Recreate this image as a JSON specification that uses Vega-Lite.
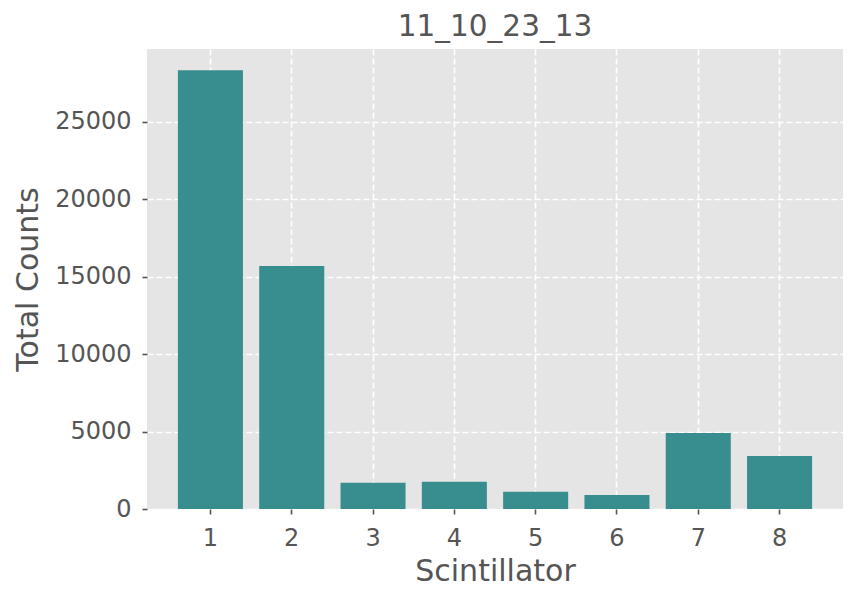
{
  "$schema": "https://vega.github.io/schema/vega-lite/v6.json",
  "width": 696,
  "height": 460,
  "autosize": "none",
  "padding": {"left": 147, "top": 49, "right": 15, "bottom": 92},
  "background": "white",
  "config": {
    "view": {"fill": "#E5E5E5", "stroke": null},
    "font": "DejaVu Sans"
  },
  "title": {
    "text": "11_10_23_13",
    "fontSize": 29.5,
    "font": "DejaVu Sans",
    "fontWeight": "normal",
    "color": "#555555",
    "anchor": "middle",
    "frame": "group",
    "baseline": "alphabetic",
    "offset": 13,
    "dy": 29
  },
  "data": {
    "values": [
      {"Scintillator": "1", "Total Counts": 28330},
      {"Scintillator": "2", "Total Counts": 15690},
      {"Scintillator": "3", "Total Counts": 1700},
      {"Scintillator": "4", "Total Counts": 1760},
      {"Scintillator": "5", "Total Counts": 1110},
      {"Scintillator": "6", "Total Counts": 910},
      {"Scintillator": "7", "Total Counts": 4900},
      {"Scintillator": "8", "Total Counts": 3420}
    ]
  },
  "mark": {"type": "bar", "color": "#388E8E"},
  "encoding": {
    "x": {
      "field": "Scintillator",
      "type": "ordinal",
      "sort": null,
      "scale": {"paddingInner": 0.2, "paddingOuter": 0.38},
      "axis": {
        "title": "Scintillator",
        "titleFontSize": 30,
        "titleFontWeight": "normal",
        "titleColor": "#555555",
        "titleBaseline": "alphabetic",
        "titleY": 71,
        "labelAngle": 0,
        "labelFontSize": 24,
        "labelColor": "#555555",
        "labelBaseline": "alphabetic",
        "labelPadding": 31,
        "tickSize": 5,
        "tickWidth": 1.6,
        "tickColor": "#555555",
        "domain": false,
        "grid": true,
        "gridColor": "white",
        "gridDash": [6, 3],
        "gridWidth": 1.6,
        "bandPosition": 0.5
      }
    },
    "y": {
      "field": "Total Counts",
      "type": "quantitative",
      "scale": {"domain": [0, 29700], "nice": false, "zero": true},
      "axis": {
        "title": "Total Counts",
        "titleFontSize": 30,
        "titleFontWeight": "normal",
        "titleColor": "#555555",
        "titleBaseline": "alphabetic",
        "titleAngle": -90,
        "titleX": -110,
        "titleY": 230,
        "titleAlign": "center",
        "values": [0, 5000, 10000, 15000, 20000, 25000],
        "format": "d",
        "labelFontSize": 24,
        "labelColor": "#555555",
        "labelPadding": 11,
        "tickSize": 5,
        "tickWidth": 1.6,
        "tickColor": "#555555",
        "domain": false,
        "grid": true,
        "gridColor": "white",
        "gridDash": [6, 3],
        "gridWidth": 1.6
      }
    }
  }
}
